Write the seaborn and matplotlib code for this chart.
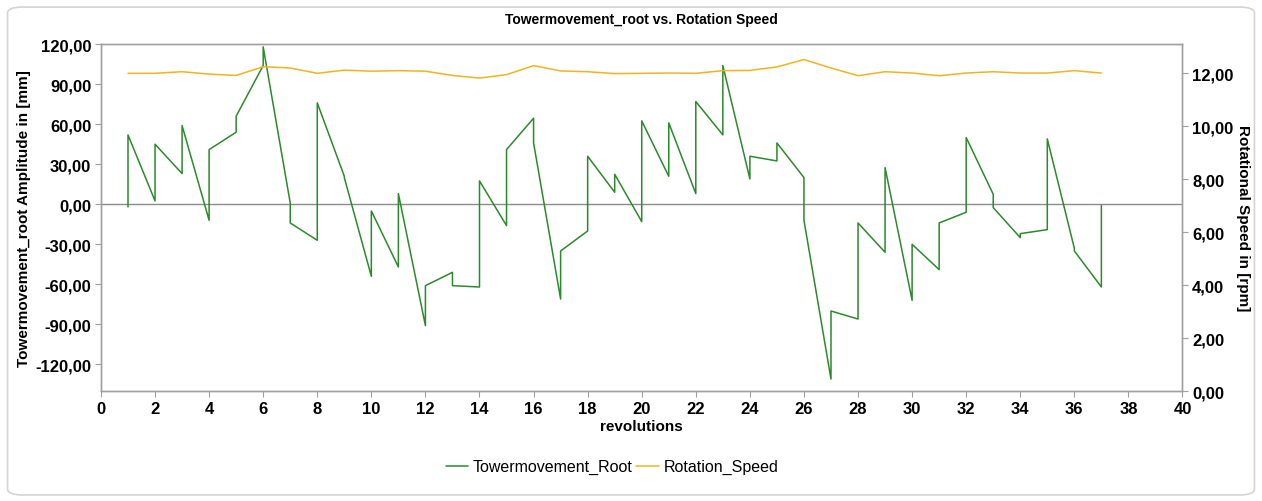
import numpy as np
import pandas as pd
import matplotlib
matplotlib.use("Agg")
import matplotlib.pyplot as plt
from matplotlib.patches import FancyBboxPatch
from matplotlib.ticker import FuncFormatter
import seaborn as sns

# Данные
revolutions = list(range(1, 38))

# значение башни в начале оборота (приход) и после скачка (уход)
tower_in = [-2, 2.5, 23, -12, 54, 104, 1, -27, 21, -54,
            -47, -91, -51, -62, -16, 64.5, -71, -20, 9, -13,
            21, 8, 52, 19, 32.5, 20, -131, -86, -36, -72,
            -49, -6, 7.5, -25, -19, -33, -62]
tower_out = [52, 45, 59, 41, 66, 118, -14, 76, 20, -5,
             8, -61, -61, 17.5, 41, 46, -35, 36, 22.5, 62.5,
             61, 77, 104, 36, 46, -12, -80, -14, 27.5, -30,
             -14, 50, -2.5, -22, 49, -35, -1]

rotation_speed = [12.0, 12.0, 12.06, 11.97, 11.92, 12.25, 12.2, 12.0, 12.12, 12.08,
                  12.1, 12.08, 11.92, 11.82, 11.95, 12.29, 12.09, 12.06, 11.99, 12.0,
                  12.01, 12.0, 12.1, 12.11, 12.24, 12.52, 12.2, 11.91, 12.06, 12.01,
                  11.91, 12.01, 12.06, 12.01, 12.01, 12.1, 12.01]

left_ticks = [-120, -90, -60, -30, 0, 30, 60, 90, 120]
right_ticks = [0, 2, 4, 6, 8, 10, 12]
x_ticks = list(range(0, 41, 2))

# Таблицы для seaborn
rev_pts = []
amp_pts = []
for r, a, b in zip(revolutions, tower_in, tower_out):
    rev_pts += [r, r]
    amp_pts += [a, b]
df_tower = pd.DataFrame({"rev": rev_pts, "amp": amp_pts})
df_speed = pd.DataFrame({"rev": revolutions, "speed": rotation_speed})

sns.set_theme(style="white")
plt.rcParams['font.family'] = ['Liberation Sans', 'DejaVu Sans']
plt.rcParams['text.color'] = 'black'
plt.rcParams['axes.labelcolor'] = 'black'

GREEN = "#2b8a2b"
ORANGE = "#f2b41e"
GRAY = "#a0a0a0"

fig = plt.figure(figsize=(12.62, 5.02), dpi=100)
ax = fig.add_axes([0.080, 0.219, 0.857, 0.691])

# рамка вокруг всей картинки
fig.patches.append(FancyBboxPatch((0.006, 0.012), 0.988, 0.972,
                                  boxstyle="round,pad=0,rounding_size=0.012",
                                  transform=fig.transFigure, facecolor="none",
                                  edgecolor="#d4d4d4", linewidth=1.2, zorder=-1))

ax.axhline(0, color="#8c8c8c", linewidth=1.0, zorder=1)
sns.lineplot(data=df_tower, x="rev", y="amp", estimator=None, sort=False,
             color=GREEN, linewidth=1.1, ax=ax, zorder=3)

ax2 = ax.twinx()
sns.lineplot(data=df_speed, x="rev", y="speed", estimator=None, sort=False,
             color=ORANGE, linewidth=1.1, ax=ax2, zorder=2)

ax.set_xlim(0, 40)
ax.set_ylim(-140, 120)
ax2.set_ylim(0, 13.1)
ax.set_xticks(x_ticks)
ax.set_yticks(left_ticks)
ax2.set_yticks(right_ticks)

comma = FuncFormatter(lambda v, p: f"{v:.2f}".replace(".", ","))
ax.yaxis.set_major_formatter(comma)
ax2.yaxis.set_major_formatter(comma)

for a in (ax, ax2):
    for s in a.spines.values():
        s.set_color(GRAY)
        s.set_linewidth(1.0)
    a.tick_params(axis="both", which="major", length=4, width=0.8, color=GRAY,
                  labelcolor="black", labelsize=12, pad=3)
    for lab in a.get_xticklabels() + a.get_yticklabels():
        lab.set_fontweight("bold")
ax.tick_params(axis="x", bottom=True)
ax.tick_params(axis="y", left=True)
ax2.tick_params(axis="y", right=True)

ax.set_xlabel("revolutions", fontsize=11, fontweight="bold", labelpad=2)
ax.set_ylabel("Towermovement_root Amplitude in [mm]", fontsize=11,
              fontweight="bold", labelpad=3)
ax2.set_ylabel("Rotational Speed in [rpm]", fontsize=11, fontweight="bold",
               rotation=-90, labelpad=12)
ax.set_title("Towermovement_root vs. Rotation Speed", fontsize=10,
             fontweight="bold", pad=15)

h1 = ax.get_lines()[-1]
h2 = ax2.get_lines()[-1]
fig.legend([h1, h2], ["Towermovement_Root", "Rotation_Speed"],
           loc="center", bbox_to_anchor=(0.485, 0.068), ncol=2, frameon=False,
           fontsize=11.5, handlelength=1.4, handletextpad=0.3, columnspacing=0.2)

fig.savefig("out.png", dpi=100)
